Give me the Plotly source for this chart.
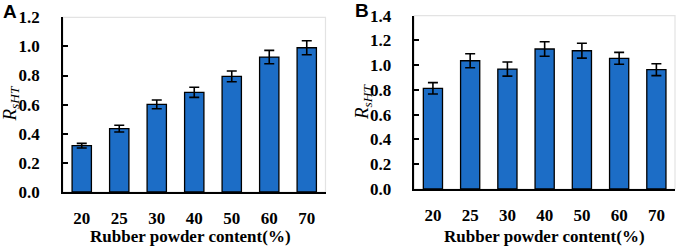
import plotly.graph_objects as go

categories = ["20", "25", "30", "40", "50", "60", "70"]
a_values = [0.318, 0.435, 0.602, 0.685, 0.794, 0.927, 0.991]
a_errors = [0.016, 0.023, 0.030, 0.035, 0.037, 0.046, 0.048]
b_values = [0.813, 1.036, 0.969, 1.131, 1.117, 1.056, 0.964]
b_errors = [0.046, 0.057, 0.057, 0.059, 0.060, 0.048, 0.048]
a_ticks = [0.0, 0.2, 0.4, 0.6, 0.8, 1.0, 1.2]
b_ticks = [0.0, 0.2, 0.4, 0.6, 0.8, 1.0, 1.2, 1.4]

W, H = 678, 247
BAR = "#1C6DC6"
SERIF = "Liberation Serif"

fig = go.Figure()
fig.add_trace(go.Bar(x=categories, y=a_values, xaxis="x", yaxis="y",
                     marker=dict(color=BAR, line=dict(color="black", width=1.3)),
                     error_y=dict(type="data", array=a_errors, color="black", thickness=1.6, width=5)))
fig.add_trace(go.Bar(x=categories, y=b_values, xaxis="x2", yaxis="y2",
                     marker=dict(color=BAR, line=dict(color="black", width=1.3)),
                     error_y=dict(type="data", array=b_errors, color="black", thickness=1.6, width=5)))

def px_x(p):
    return p / W

def px_y(p):
    return 1 - p / H

xa = dict(domain=[px_x(63), px_x(325.5)])
xb = dict(domain=[px_x(414.3), px_x(675)])
ya = dict(domain=[px_y(192), px_y(17.3)])
yb = dict(domain=[px_y(189), px_y(15.7)])

tickfont = dict(family=SERIF, size=17, color="black", weight="bold")
common_x = dict(type="category", showline=True, linecolor="black", linewidth=1.5,
                ticks="", showgrid=False, tickfont=tickfont, ticklabelstandoff=10,
                zeroline=False, automargin=False)
common_y = dict(showline=True, linecolor="black", linewidth=1.5, ticks="inside",
                ticklen=5, tickwidth=1.5, tickcolor="black", showgrid=False,
                tickfont=tickfont, ticklabelstandoff=18, zeroline=False,
                tickformat=".1f", automargin=False)

fig.update_layout(
    width=W, height=H,
    margin=dict(l=0, r=0, t=0, b=0),
    paper_bgcolor="white", plot_bgcolor="white",
    showlegend=False, bargap=0.485,
    xaxis=dict(**common_x, **xa, anchor="y"),
    yaxis=dict(**common_y, **ya, anchor="x", range=[0, 1.2], tickvals=a_ticks),
    xaxis2=dict(**common_x, **xb, anchor="y2"),
    yaxis2=dict(**common_y, **yb, anchor="x2", range=[0, 1.4], tickvals=b_ticks),
)

# light gray frame (top and right)
for xr, yr in (("x domain", "y domain"), ("x2 domain", "y2 domain")):
    fig.add_shape(type="rect", xref=xr, yref=yr, x0=0, x1=1, y0=0, y1=1,
                  line=dict(color="#E3E3E3", width=1.2), layer="below")

title_font = dict(family=SERIF, size=17, color="black", weight="bold")
ytitle = "<i>R</i><sub><i>sHT</i></sub>"
anns = [
    dict(text="Rubber powder content(%)", x=px_x(190), y=px_y(236), font=title_font),
    dict(text="Rubber powder content(%)", x=px_x(544), y=px_y(236), font=title_font),
    dict(text=ytitle, x=px_x(10.5), y=px_y(104), textangle=-90,
         font=dict(family=SERIF, size=19, color="black")),
    dict(text=ytitle, x=px_x(363), y=px_y(102), textangle=-90,
         font=dict(family=SERIF, size=19, color="black")),
    dict(text="A", x=px_x(9.5), y=px_y(11.5),
         font=dict(family="Liberation Sans", size=19, color="black", weight="bold")),
    dict(text="B", x=px_x(362), y=px_y(10.5),
         font=dict(family="Liberation Sans", size=19, color="black", weight="bold")),
]
for a in anns:
    fig.add_annotation(xref="paper", yref="paper", showarrow=False,
                       xanchor="center", yanchor="middle", **a)

fig.write_html("out.html", config={"displayModeBar": False},
               post_script="document.body.style.margin='0px';document.body.style.overflow='hidden';")
